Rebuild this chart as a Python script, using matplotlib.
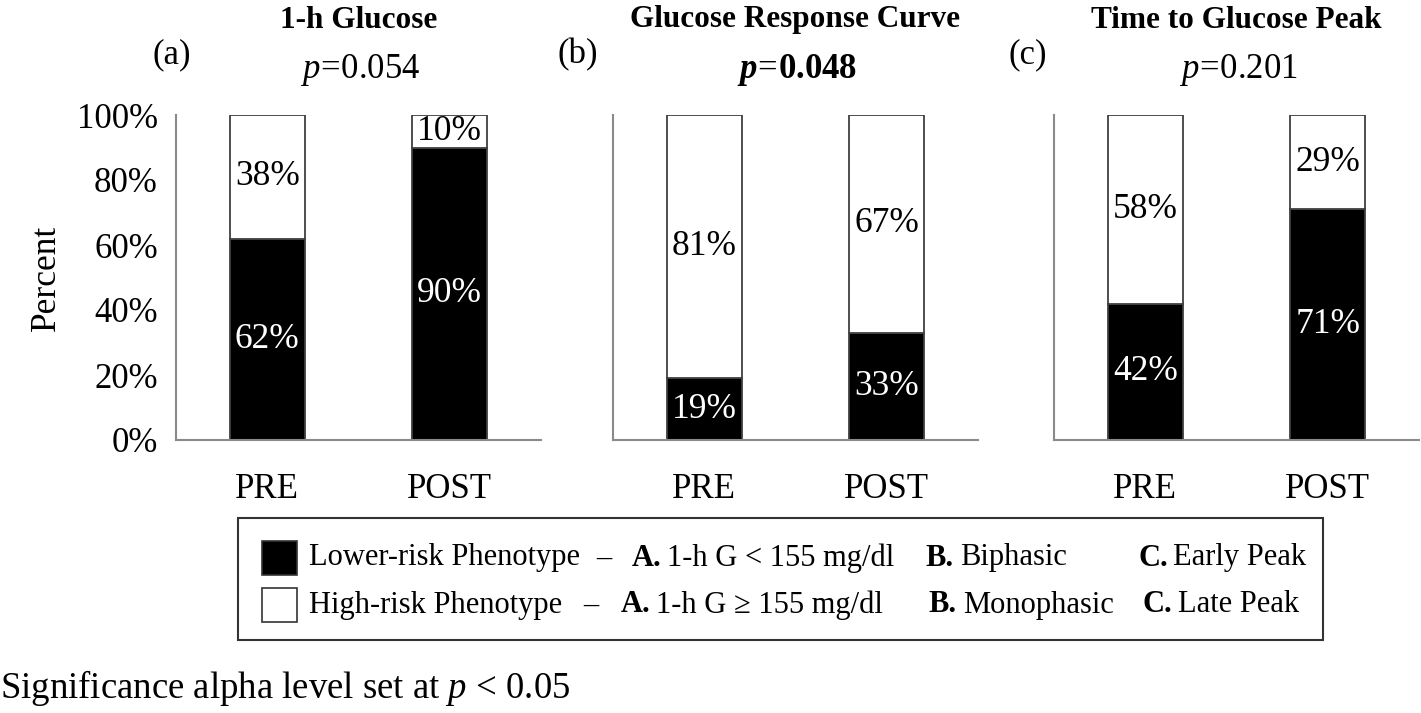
import matplotlib
matplotlib.use('Agg')
import matplotlib.pyplot as plt
from matplotlib.patches import Rectangle
from matplotlib.ticker import PercentFormatter

plt.rcParams['font.family'] = ['Liberation Serif', 'DejaVu Serif']
plt.rcParams['mathtext.fontset'] = 'custom'
plt.rcParams['mathtext.rm'] = 'Liberation Serif'
plt.rcParams['mathtext.it'] = 'Liberation Serif:italic'
plt.rcParams['mathtext.bf'] = 'Liberation Serif:bold'
plt.rcParams['mathtext.bfit'] = 'Liberation Serif:italic:bold'

# ---- data -----------------------------------------------------------------
groups = ['PRE', 'POST']
titles = ['1-h Glucose', 'Glucose Response Curve', 'Time to Glucose Peak']
panel_tags = ['(a)', '(b)', '(c)']
p_labels = [r'$p\!=\!0.054$', r'$\mathbfit{p}\!=\!\mathbf{0.048}$', r'$p\!=\!0.201$']
lower_risk = [[62, 90], [19, 33], [42, 71]]
high_risk = [[38, 10], [81, 67], [58, 29]]
# ---------------------------------------------------------------------------

W, H = 1421, 713
fig = plt.figure(figsize=(W / 100, H / 100), dpi=100)

def px(x, y):
    return x / W, 1 - y / H

ax_left = [176, 613, 1054]
ax_w, ax_top, ax_bot = 365, 115, 440
tag_x = [172, 578, 1028]
FS = 25
edge = '#404040'

for i in range(3):
    l, b = px(ax_left[i], ax_bot)
    ax = fig.add_axes([l, b, ax_w / W, (ax_bot - ax_top) / H])
    x = range(len(groups))
    ax.bar(x, lower_risk[i], width=0.41, color='black', edgecolor=edge, lw=1.3)
    ax.bar(x, high_risk[i], width=0.41, bottom=lower_risk[i], color='white',
           edgecolor=edge, lw=1.3)
    for j in x:
        lo, hi = lower_risk[i][j], high_risk[i][j]
        ax.text(j, lo / 2, f'{lo}%', ha='center', va='center', color='white',
                fontsize=25.5)
        ax.text(j, lo + hi / 2, f'{hi}%', ha='center', va='center',
                color='black', fontsize=25.5)
    ax.set_xlim(-0.5, 1.5)
    ax.set_ylim(0, 100)
    ax.set_xticks(list(x))
    ax.set_xticklabels(groups, fontsize=FS)
    ax.set_yticks(range(0, 101, 20))
    ax.yaxis.set_major_formatter(PercentFormatter(decimals=0))
    ax.tick_params(length=0, labelsize=FS)
    ax.tick_params(axis='x', pad=24)
    ax.tick_params(axis='y', pad=13)
    if i > 0:
        ax.set_yticklabels([])
    else:
        ax.set_ylabel('Percent', fontsize=25.5, labelpad=10)
    for s in ('top', 'right'):
        ax.spines[s].set_visible(False)
    for s in ('left', 'bottom'):
        ax.spines[s].set_color('#8a8a8a')
        ax.spines[s].set_linewidth(1.5)

    cx = ax_left[i] + ax_w / 2
    fig.text(*px(cx, 20), titles[i], ha='center', va='center',
             fontsize=22.5, fontweight='bold')
    fig.text(*px(tag_x[i], 55), panel_tags[i], ha='center', va='center',
             fontsize=FS)
    fig.text(*px(cx + 2, 70), p_labels[i], ha='center', va='center',
             fontsize=FS)

# legend box drawn by hand
fig.add_artist(Rectangle(px(238, 640), 1085 / W, 122 / H,
                         transform=fig.transFigure, fill=False,
                         edgecolor='#333333', lw=1.5))
rows = [
    ('black', 'Lower-risk Phenotype', 604, 558,
     [(632, 'A.', '1-h G < 155 mg/dl'), (925, 'B.', 'Biphasic'),
      (1138, 'C.', 'Early Peak')]),
    ('white', 'High-risk Phenotype', 591, 605,
     [(621, 'A.', '1-h G \u2265 155 mg/dl'), (928, 'B.', 'Monophasic'),
      (1143, 'C.', 'Late Peak')]),
]
LFS = 22
for color, label, dash_x, y, items in rows:
    fig.add_artist(Rectangle(px(262, y + 17), 35 / W, 34 / H,
                             transform=fig.transFigure, facecolor=color,
                             edgecolor='#333333', lw=1.2))
    fig.text(*px(309, y), label, ha='left', va='center', fontsize=LFS)
    fig.text(*px(dash_x, y), '\u2013', ha='center', va='center', fontsize=LFS)
    for xx, key, txt in items:
        fig.text(*px(xx, y), key, ha='left', va='center', fontsize=LFS,
                 fontweight='bold')
        fig.text(*px(xx + 35, y), txt, ha='left', va='center', fontsize=LFS)

fig.text(*px(0, 688), r'Significance alpha level set at $p$ < 0.05',
         ha='left', va='center', fontsize=26.5)

fig.savefig('out.png', dpi=100)
